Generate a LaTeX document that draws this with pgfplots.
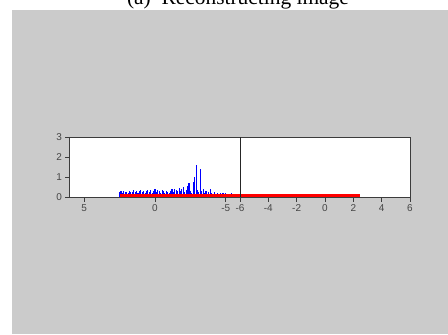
\documentclass[border=0pt]{standalone}
\usepackage{pgfplots}
\pgfplotsset{compat=1.18}
\usepackage{fontspec}
\setmainfont{Liberation Serif}
\newfontfamily\ticksans{Liberation Sans}
\definecolor{bggray}{RGB}{203,203,203}
\definecolor{axgray}{RGB}{60,60,60}
\definecolor{lblgray}{RGB}{70,70,70}
\pgfplotstableread{
x y
2.5 0.25
2.4 0.28
2.3 0.22
2.2 0.30
2.1 0.25
2.0 0.27
1.9 0.22
1.8 0.30
1.7 0.26
1.6 0.24
1.5 0.33
1.4 0.25
1.3 0.28
1.2 0.22
1.1 0.30
1.0 0.35
0.9 0.25
0.8 0.30
0.7 0.22
0.6 0.28
0.5 0.33
0.4 0.26
0.3 0.35
0.2 0.22
0.1 0.30
0.0 0.38
-0.1 0.25
-0.2 0.36
-0.3 0.28
-0.4 0.22
-0.5 0.35
-0.6 0.30
-0.7 0.20
-0.8 0.28
-0.9 0.25
-1.0 0.22
-1.1 0.30
-1.2 0.38
-1.3 0.25
-1.4 0.40
-1.5 0.35
-1.6 0.28
-1.7 0.45
-1.8 0.30
-1.9 0.40
-2.0 0.50
-2.1 0.25
-2.2 0.35
-2.3 0.55
-2.4 0.70
-2.5 0.30
-2.6 0.20
-2.7 0.75
-2.8 1.00
-2.9 1.60
-3.0 0.35
-3.1 0.25
-3.2 1.40
-3.3 0.30
-3.4 0.40
-3.5 0.20
-3.6 0.30
-3.7 0.15
-3.8 0.25
-3.9 0.40
-4.0 0.20
-4.1 0.15
-4.2 0.25
-4.3 0.12
-4.4 0.20
-4.5 0.15
-4.6 0.22
-4.7 0.12
-4.8 0.18
-4.9 0.10
-5.0 0.20
-5.1 0.12
-5.2 0.15
-5.3 0.10
-5.4 0.18
-5.5 0.12
-5.6 0.15
-5.7 0.10
-5.8 0.12
-5.9 0.08
-6.0 0.10
}\bluedata
\pgfplotstableread{
x y
-6.0 0.14
-5.8 0.12
-5.6 0.15
-5.4 0.11
-5.2 0.14
-5.0 0.12
-4.8 0.15
-4.6 0.11
-4.4 0.13
-4.2 0.12
-4.0 0.14
-3.8 0.11
-3.6 0.12
-3.4 0.10
-3.2 0.12
-3.0 0.10
-2.8 0.11
-2.6 0.10
-2.4 0.10
-2.2 0.09
-2.0 0.10
-1.8 0.09
-1.6 0.09
}\bluesmall
\pgfplotstableread{
x y
-6.0 0.06
-5.0 0.06
-4.0 0.06
-3.0 0.06
-2.0 0.06
-1.0 0.06
0.0 0.06
1.0 0.06
2.0 0.06
2.5 0.06
}\reddata
\pgfplotsset{
  panel/.style={
    scale only axis, width=170bp, height=60bp,
    xmin=-6, xmax=6, ymin=0, ymax=3,
    axis background/.style={fill=white},
    axis line style={axgray, line width=1bp},
    tick style={axgray, line width=0.8bp},
    tick align=outside, tick pos=left,
    major tick length=4.5bp,
    tick label style={font=\ticksans\fontsize{10}{11}\selectfont, text=lblgray},
    /pgf/number format/assume math mode=true,
    clip=true,
  }
}
\begin{document}
\begin{tikzpicture}[x=1bp,y=1bp]
\path[use as bounding box] (0,0) rectangle (448,334);
\fill[bggray] (12,0) rectangle (448,324);
\node[anchor=base, inner sep=0pt, font=\fontsize{21.5}{24}\selectfont] at (238,330) {(a)\ \ Reconstructing image};
\begin{axis}[panel, at={(70bp,137bp)}, anchor=south west,
  x dir=reverse, xtick={-5,0,5}, xticklabels={-5,0,5},
  ytick={0,1,2,3}, yticklabels={0,1,2,3}]
\addplot[ycomb, blue, line width=1.1bp] table[x=x,y=y] {\bluedata};
\addplot[red, line width=2.8bp] table[x=x,y=y] {\reddata};
\end{axis}
\begin{axis}[panel, at={(240bp,137bp)}, anchor=south west,
  xtick={-6,-4,-2,0,2,4,6}, xticklabels={-6,-4,-2,0,2,4,6}, ytick=\empty]
\addplot[ycomb, blue, line width=1.1bp] table[x=x,y=y] {\bluesmall};
\addplot[red, line width=2.8bp] table[x=x,y=y] {\reddata};
\draw[black!85, line width=2bp] (rel axis cs:0,0) -- (rel axis cs:0,1);
\end{axis}
\end{tikzpicture}
\end{document}
